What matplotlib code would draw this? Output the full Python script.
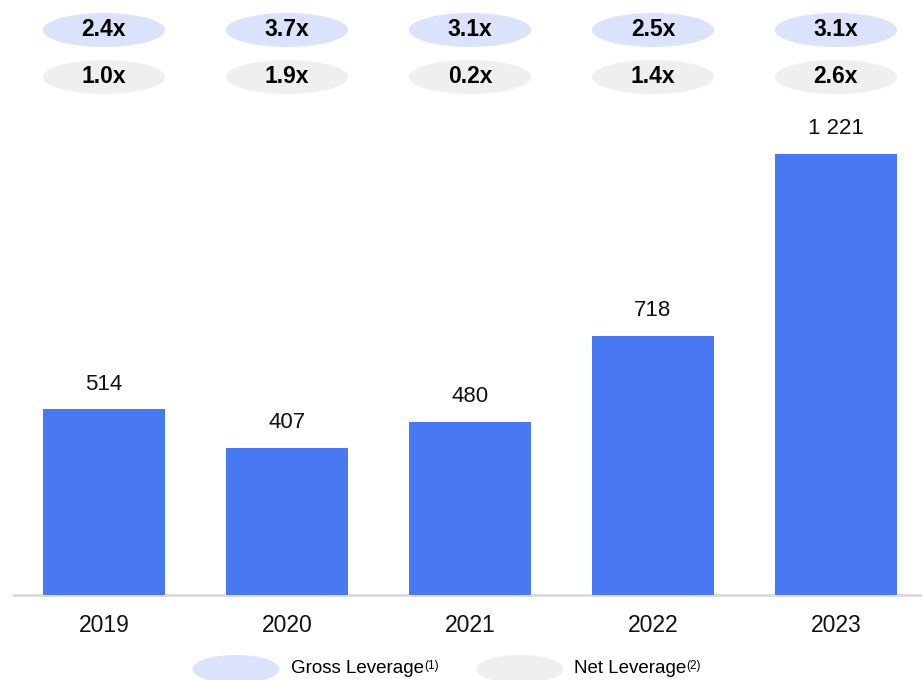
import numpy as np
import matplotlib.pyplot as plt
from matplotlib.patches import Ellipse

plt.rcParams['font.family'] = ['Liberation Sans', 'DejaVu Sans']

years = ['2019', '2020', '2021', '2022', '2023']
values = [514, 407, 480, 718, 1221]
value_labels = ['514', '407', '480', '718', '1 221']
gross = ['2.4x', '3.7x', '3.1x', '2.5x', '3.1x']
net = ['1.0x', '1.9x', '0.2x', '1.4x', '2.6x']

bar_color = '#4878F2'
gross_color = '#DAE3FB'
net_color = '#EFEFEF'

fig = plt.figure(figsize=(9.22, 6.8), dpi=100)
ax = fig.add_axes([0, 0, 1, 1])
ax.set_xlim(-0.568, 4.470)
ax.set_ylim(-235.3, 1647)
ax.axis('off')

x = np.arange(len(years))
ax.bar(x, values, width=0.667, color=bar_color, zorder=2)

# baseline
ax.plot([-0.503, 4.47], [0, 0], color='#D9D9D9', lw=2, zorder=1, solid_capstyle='butt')

for i, (v, lab) in enumerate(zip(values, value_labels)):
    ax.text(i, v + 70, lab, ha='center', va='center', fontsize=16, color='#111111')
    ax.text(i, -85, years[i], ha='center', va='center', fontsize=16.5, color='#111111')

# leverage bubbles above the bars
for i in x:
    ax.add_patch(Ellipse((i, 1564), 0.667, 94, color=gross_color, lw=0))
    ax.text(i, 1564, gross[i], ha='center', va='center', fontsize=16.5, fontweight='bold')
    ax.add_patch(Ellipse((i, 1434), 0.667, 94, color=net_color, lw=0))
    ax.text(i, 1434, net[i], ha='center', va='center', fontsize=16.5, fontweight='bold')

# legend
leg_y = -205
for cx, col, lx, name, note in [(0.721, gross_color, 1.022, 'Gross Leverage', '(1)'),
                                (2.273, net_color, 2.568, 'Net Leverage', '(2)')]:
    ax.add_patch(Ellipse((cx, leg_y), 0.475, 78, color=col, lw=0))
    t = ax.text(lx, leg_y + 2, name, ha='left', va='center', fontsize=13.5)
    ax.annotate(note, xy=(1, 0.62), xycoords=t, ha='left', va='center', fontsize=8.5)

fig.savefig('out.png', dpi=100)
